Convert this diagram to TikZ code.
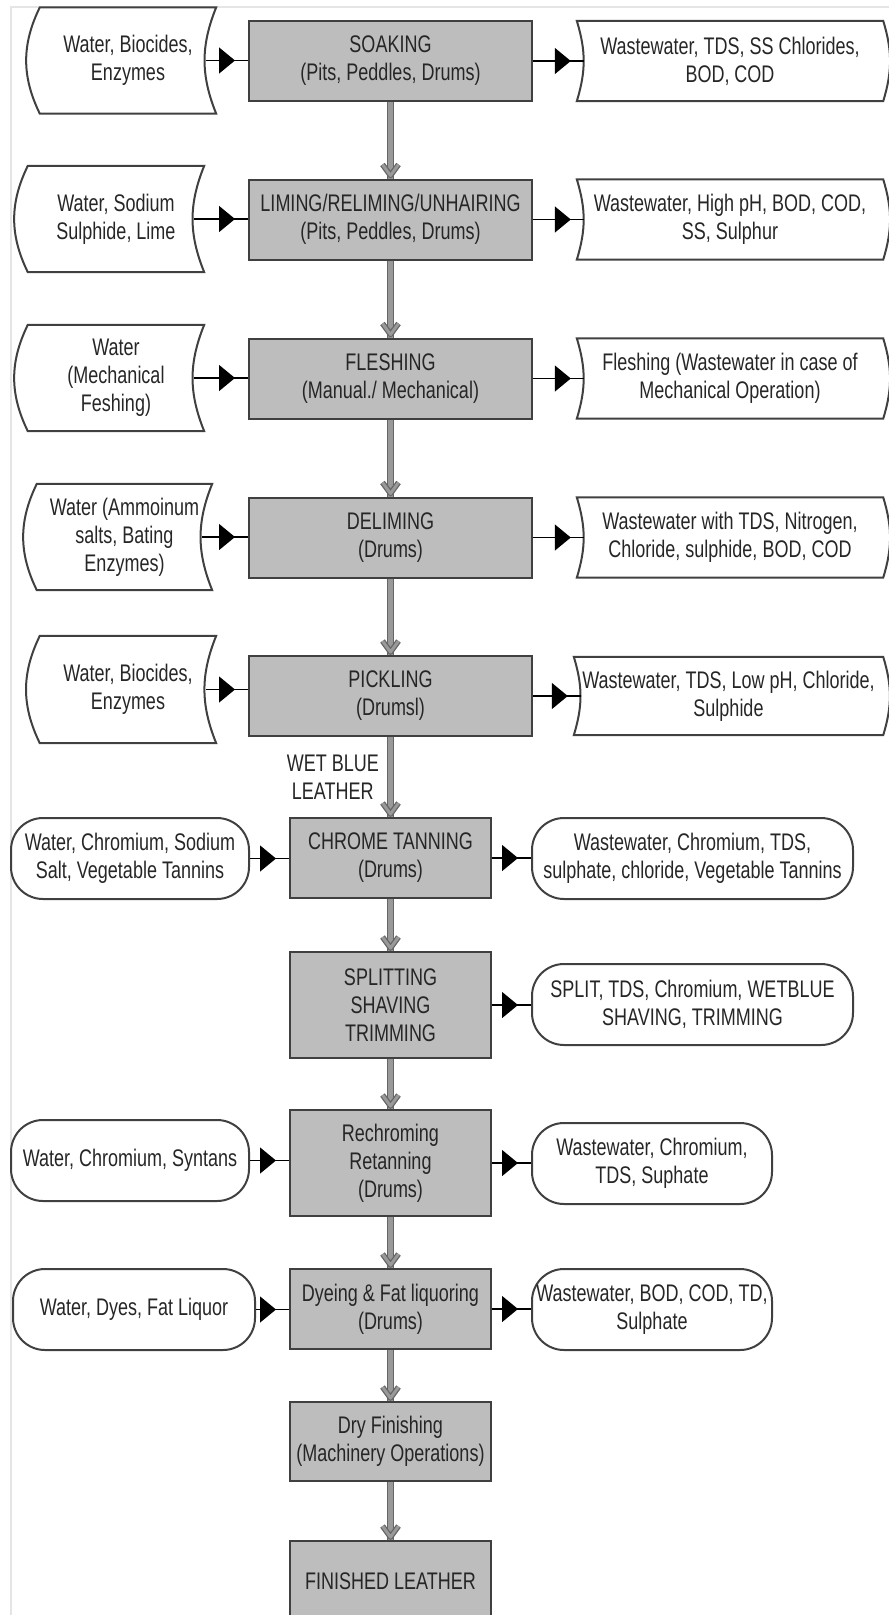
\documentclass[tikz,border=0pt]{standalone}
\usepackage{fontspec}
\setmainfont{Liberation Sans}[FakeStretch=0.75]
\usetikzlibrary{arrows.meta,decorations.markings}

\begin{document}
\begin{tikzpicture}[x=1pt,y=-1pt,
    every node/.style={font=\fontsize{24}{28}\selectfont, text=black!85, inner sep=2pt, align=center},
    proc/.style={draw=black!75, fill=gray!52, line width=2pt, minimum width=283pt, minimum height=80pt},
    procs/.style={proc, minimum width=201pt},
    stock/.style={minimum height=106pt},
    waste/.style={minimum height=80pt},
    pill/.style={draw=black!75, line width=2pt, rounded corners=32pt, minimum height=81pt},
    shapeline/.style={draw=black!75, line width=2pt},
    feed/.style={black, line width=1.5pt, postaction={decorate},
      decoration={markings, mark=at position -13pt with {\arrow{Triangle[length=16pt,width=26pt]}}}},
    chevron/.style={draw=black!60, double=gray!80, line width=1.3pt, double distance=3pt, line join=round},
    flowdown/.style={draw=black!60, double=gray!80, line width=1.4pt, double distance=4.2pt, postaction={decorate},
      decoration={markings, mark=at position -3pt with {\draw[chevron] (-11pt,8pt) -- (0pt,0pt) -- (-11pt,-8pt);}}}]

  \useasboundingbox (0,0) rectangle (889,1615);
  \draw[gray!20, line width=1.5pt] (11,1615) -- (11,7) -- (889,7);

  % process steps
  \node[proc] (p1) at (390.5,61) {SOAKING\\(Pits, Peddles, Drums)};
  \node[proc] (p2) at (390.5,219.5) {LIMING/RELIMING/UNHAIRING\\(Pits, Peddles, Drums)};
  \node[proc] (p3) at (390.5,378.5) {FLESHING\\(Manual./ Mechanical)};
  \node[proc] (p4) at (390.5,537.5) {DELIMING\\(Drums)};
  \node[proc] (p5) at (390.5,696) {PICKLING\\(Drumsl)};
  \node[procs] (p6) at (390.5,858) {CHROME TANNING\\(Drums)};
  \node[procs, minimum height=106pt] (p7) at (390.5,1005) {SPLITTING\\SHAVING\\TRIMMING};
  \node[procs, minimum height=106pt] (p8) at (390.5,1163) {Rechroming\\Retanning\\(Drums)};
  \node[procs] (p9) at (390.5,1309) {Dyeing \& Fat liquoring\\(Drums)};
  \node[procs, minimum height=79pt] (p10) at (390.5,1441.5) {Dry Finishing\\(Machinery Operations)};
  \node[procs] (p11) at (390.5,1581) {FINISHED LEATHER};

  % inputs
  \node[stock, minimum width=176pt] (in1) at (128,60.5) {Water, Biocides,\\Enzymes};
  \node[stock, minimum width=176pt] (in2) at (116,219) {Water, Sodium\\Sulphide, Lime};
  \node[stock, minimum width=176pt] (in3) at (116,378) {Water\\(Mechanical\\Feshing)};
  \node[stock, minimum width=175pt] (in4) at (124.5,537) {Water (Ammoinum\\salts, Bating\\Enzymes)};
  \node[stock, minimum width=176pt, minimum height=107pt] (in5) at (128,689.5) {Water, Biocides,\\Enzymes};
  \foreach \n in {in1,in2,in3,in4,in5}
    \draw[shapeline] (\n.north west) to[bend right=26] (\n.south west) -- (\n.south east)
      to[bend left=22] (\n.north east) -- cycle;

  \node[pill, minimum width=238pt] (in6) at (130,858.5) {Water, Chromium, Sodium\\Salt, Vegetable Tannins};
  \node[pill, minimum width=238pt] (in8) at (130,1160.5) {Water, Chromium, Syntans};
  \node[pill, minimum width=242pt] (in9) at (134,1309.5) {Water, Dyes, Fat Liquor};

  % outputs
  \node[waste, minimum width=306pt] (out1) at (730,61) {Wastewater, TDS, SS Chlorides,\\BOD, COD};
  \node[waste, minimum width=306pt] (out2) at (730,219.5) {Wastewater, High pH, BOD, COD,\\SS, Sulphur};
  \node[waste, minimum width=306pt] (out3) at (730,378.5) {Fleshing (Wastewater in case of\\Mechanical Operation)};
  \node[waste, minimum width=306pt] (out4) at (730,537.5) {Wastewater with TDS, Nitrogen,\\Chloride, sulphide, BOD, COD};
  \node[waste, minimum width=309pt, minimum height=78pt] (out5) at (728.5,696) {Wastewater, TDS, Low pH, Chloride,\\Sulphide};
  \foreach \n in {out1,out2,out3,out4,out5}
    \draw[shapeline] (\n.north west) to[bend left=17] (\n.south west) -- (\n.south east)
      to[bend right=17] (\n.north east) -- cycle;

  \node[pill, minimum width=321pt] (out6) at (692.5,858.5) {Wastewater, Chromium, TDS,\\sulphate, chloride, Vegetable Tannins};
  \node[pill, minimum width=321pt] (out7) at (692.5,1004.5) {SPLIT, TDS, Chromium, WETBLUE\\SHAVING, TRIMMING};
  \node[pill, minimum width=240pt] (out8) at (652,1163.5) {Wastewater, Chromium,\\TDS, Suphate};
  \node[pill, minimum width=240pt] (out9) at (652,1309.5) {Wastewater, BOD, COD, TD,\\Sulphate};

  % side arrows
  \foreach \n in {1,...,5} {
    \draw[feed] ([xshift=-10pt]in\n.east) -- (in\n.east -| p\n.west);
    \draw[feed] (p\n.east) -- ([xshift=7pt]p\n.east -| out\n.west);
  }
  \foreach \n in {6,8,9}
    \draw[feed] (in\n.east) -- (in\n.east -| p\n.west);
  \foreach \n in {6,...,9}
    \draw[feed] (p\n.east) -- (p\n.east -| out\n.west);

  % main flow
  \foreach \a/\b in {p1/p2,p2/p3,p3/p4,p4/p5,p6/p7,p7/p8,p8/p9,p9/p10,p10/p11}
    \draw[flowdown] (\a.south) -- (\b.north);
  \draw[flowdown] (p5.south) -- node[midway, left=9pt] (wbl) {WET BLUE\\LEATHER} (p6.north);
\end{tikzpicture}
\end{document}
